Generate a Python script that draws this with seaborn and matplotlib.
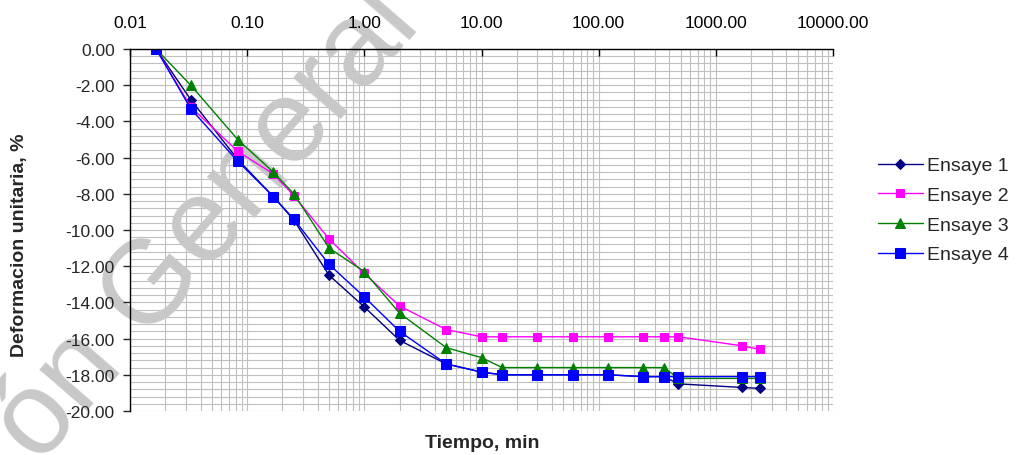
import numpy as np
import pandas as pd
import matplotlib
matplotlib.use('Agg')
import matplotlib.pyplot as plt
import matplotlib.ticker as mticker
import seaborn as sns

# tiempo en minutos (1 s, 2 s, 5 s, ... ) y deformacion unitaria en %
tiempo = [0.0167, 0.033, 0.083, 0.167, 0.25, 0.5, 1, 2, 5, 10, 15, 30, 60,
          120, 240, 360, 480, 1680, 2370]
ensaye1 = [0, -2.8, -6.1, -8.15, -9.45, -12.5, -14.25, -16.1, -17.4, -17.85,
           -18.0, -18.0, -18.0, -18.0, -18.1, -18.1, -18.5, -18.7, -18.75]
ensaye2 = [0, -3.2, -5.65, -6.9, -8.1, -10.5, -12.4, -14.2, -15.5, -15.9,
           -15.9, -15.9, -15.9, -15.9, -15.9, -15.9, -15.9, -16.4, -16.6]
ensaye3 = [0, -2.0, -5.0, -6.8, -8.0, -11.0, -12.3, -14.6, -16.5, -17.05,
           -17.6, -17.6, -17.6, -17.6, -17.6, -17.6, -18.2, -18.2, -18.2]
ensaye4 = [0, -3.3, -6.2, -8.15, -9.4, -11.9, -13.7, -15.6, -17.4, -17.85,
           -18.0, -18.0, -18.0, -18.0, -18.1, -18.1, -18.1, -18.1, -18.1]
nombres = ['Ensaye 1', 'Ensaye 2', 'Ensaye 3', 'Ensaye 4']

sns.set_style('white')
plt.rcParams['font.family'] = ['Liberation Sans', 'DejaVu Sans']

df = pd.DataFrame({'tiempo': tiempo * 4,
                   'def': ensaye1 + ensaye2 + ensaye3 + ensaye4,
                   'ensaye': np.repeat(nombres, len(tiempo))})

estilos = {
    'Ensaye 1': dict(color='#000080', marker='D', markersize=5.5),
    'Ensaye 2': dict(color='#FF00FF', marker='s', markersize=6.3),
    'Ensaye 3': dict(color='#008000', marker='^', markersize=7.5),
    'Ensaye 4': dict(color='#0000FF', marker='s', markersize=7.8),
}

rect = [130 / 1017, 1 - 412 / 456, 703 / 1017, 362 / 456]
fig = plt.figure(figsize=(10.17, 4.56), dpi=100)
ax = fig.add_axes(rect)

for nombre in nombres:
    st = estilos[nombre]
    sns.lineplot(data=df[df['ensaye'] == nombre], x='tiempo', y='def', ax=ax,
                 estimator=None, sort=False, color=st['color'],
                 marker=st['marker'], markersize=st['markersize'],
                 markeredgecolor=st['color'], linewidth=1.0, label=nombre,
                 zorder=3)
handles, labels = ax.get_legend_handles_labels()
ax.get_legend().remove()

# grid + data on ax, ticks/labels on ax2 on top (so the watermark stays under the labels)
ax2 = fig.add_axes(rect, sharex=ax, sharey=ax)
ax2.set_zorder(ax.get_zorder() + 1)
ax2.patch.set_visible(False)

ax.set_xscale('log')
ax.set_xlim(0.01, 10000)
ax.set_ylim(-20, 0)

ax.xaxis.set_major_locator(mticker.LogLocator(base=10, numticks=10))
ax.xaxis.set_minor_locator(mticker.LogLocator(base=10, subs=np.arange(2, 10), numticks=20))
ax.xaxis.set_major_formatter(mticker.FuncFormatter(lambda v, p: f'{v:.2f}'))
ax.xaxis.set_minor_formatter(mticker.NullFormatter())
ax.yaxis.set_major_locator(mticker.MultipleLocator(2))
ax.yaxis.set_minor_locator(mticker.MultipleLocator(0.4))
ax.yaxis.set_major_formatter(mticker.FuncFormatter(lambda v, p: f'{v + 0.0:.2f}'))

ax.grid(True, which='both', color='#c0c0c0', linewidth=0.8)
ax.set_axisbelow(True)
ax.tick_params(which='both', length=0, labelleft=False, labelbottom=False,
               labeltop=False)
for s in ax.spines.values():
    s.set_visible(False)
ax.set_xlabel('')
ax.set_ylabel('')

ax2.xaxis.tick_top()
ax2.tick_params(axis='x', which='major', direction='in', length=5, width=1,
                labelsize=12.5, pad=14, colors='black')
ax2.tick_params(axis='y', which='major', direction='out', length=5, width=1,
                labelsize=12.5, pad=6, left=True)
ax2.tick_params(which='minor', length=0)
ax2.grid(False)
for lado in ['bottom', 'right']:
    ax2.spines[lado].set_visible(False)
for lado in ['top', 'left']:
    ax2.spines[lado].set_color('black')
    ax2.spines[lado].set_linewidth(1)

ax2.set_ylabel('Deformacion unitaria, %', fontsize=14, fontweight='bold')
ax2.yaxis.set_label_coords(-0.145, 0.461)
fig.text(482 / 1017, 1 - 444 / 456, 'Tiempo, min', ha='center', va='center',
         fontsize=14, fontweight='bold')

# marca de agua
ax.text(246 / 1017, 1 - 182 / 456, 'ón General C', transform=fig.transFigure,
        fontsize=85, color='#c8c8c8', rotation=49, ha='center', va='center',
        rotation_mode='anchor', clip_on=False, zorder=1)

ax2.legend(handles, labels, loc='center left', bbox_to_anchor=(0.846, 0.537),
           bbox_transform=fig.transFigure, frameon=False, fontsize=14,
           handlelength=2.3, handletextpad=0.25, labelspacing=0.62)

plt.savefig('out.png', dpi=100)
plt.close()
